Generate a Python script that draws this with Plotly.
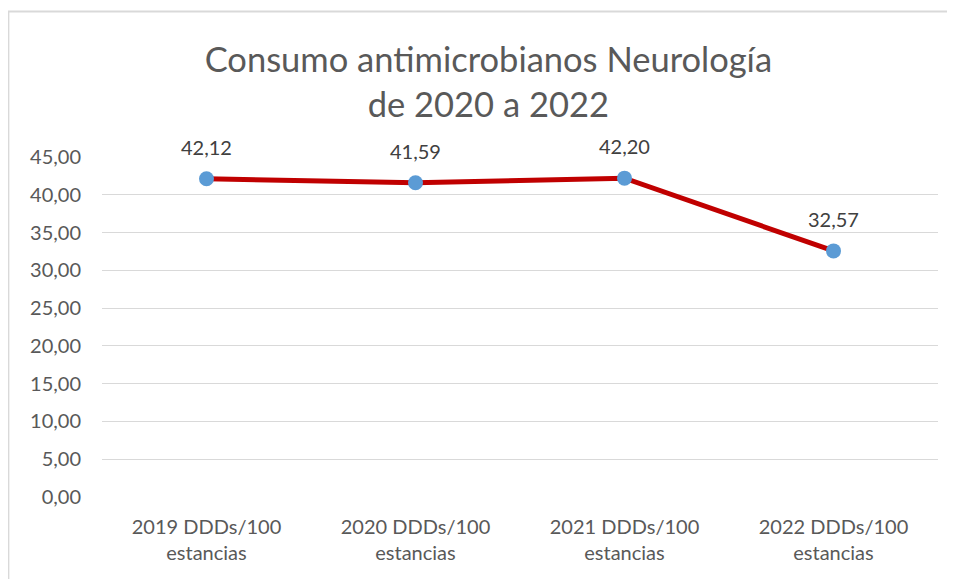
import plotly.graph_objects as go

categorias = ["2019 DDDs/100<br>estancias", "2020 DDDs/100<br>estancias",
              "2021 DDDs/100<br>estancias", "2022 DDDs/100<br>estancias"]
consumo = [42.12, 41.59, 42.20, 32.57]
y_ticks = [0, 5, 10, 15, 20, 25, 30, 35, 40, 45]

etiquetas = [f"{v:.2f}".replace(".", ",") for v in consumo]
gris = "#595959"
fuente = "Lato, 'Open Sans', sans-serif"

fig = go.Figure()
fig.add_trace(go.Scatter(
    x=categorias, y=consumo, mode="lines+markers",
    line=dict(color="#C00000", width=5),
    marker=dict(color="#5B9BD5", size=15),
    cliponaxis=False, hoverinfo="x+y"))

# etiquetas de datos encima de cada punto
for cat, val, txt in zip(categorias, consumo, etiquetas):
    fig.add_annotation(x=cat, y=val, text=txt, showarrow=False,
                       yshift=32, font=dict(size=20, color="#404040", family=fuente))

fig.update_layout(
    width=955, height=579,
    margin=dict(l=94, r=25, t=149, b=90),
    paper_bgcolor="white", plot_bgcolor="white",
    separators=",.",
    showlegend=False,
    font=dict(family=fuente, color=gris),
    title=dict(text="Consumo antimicrobianos Neurología<br>de 2020 a 2022",
               x=0.503, xanchor="center", y=0.89, yanchor="top",
               font=dict(size=34.5, color=gris, family=fuente)),
)
fig.update_xaxes(range=[-0.5, 3.5], showgrid=False, showline=False,
                 ticks="", ticklabelstandoff=16,
                 tickfont=dict(size=20, color=gris))
fig.update_yaxes(range=[0, 45], tickvals=y_ticks, tickformat=".2f",
                 gridcolor="#D9D9D9", gridwidth=1.3, zeroline=False,
                 showline=False, ticks="", ticklabelstandoff=20,
                 tickfont=dict(size=20, color=gris))
fig.add_shape(type="rect", xref="paper", yref="paper",
              x0=-0.112, x1=1.2, y0=-0.5, y1=1.428,
              line=dict(color="#D9D9D9", width=2), layer="below")
fig.write_html("out.html")
